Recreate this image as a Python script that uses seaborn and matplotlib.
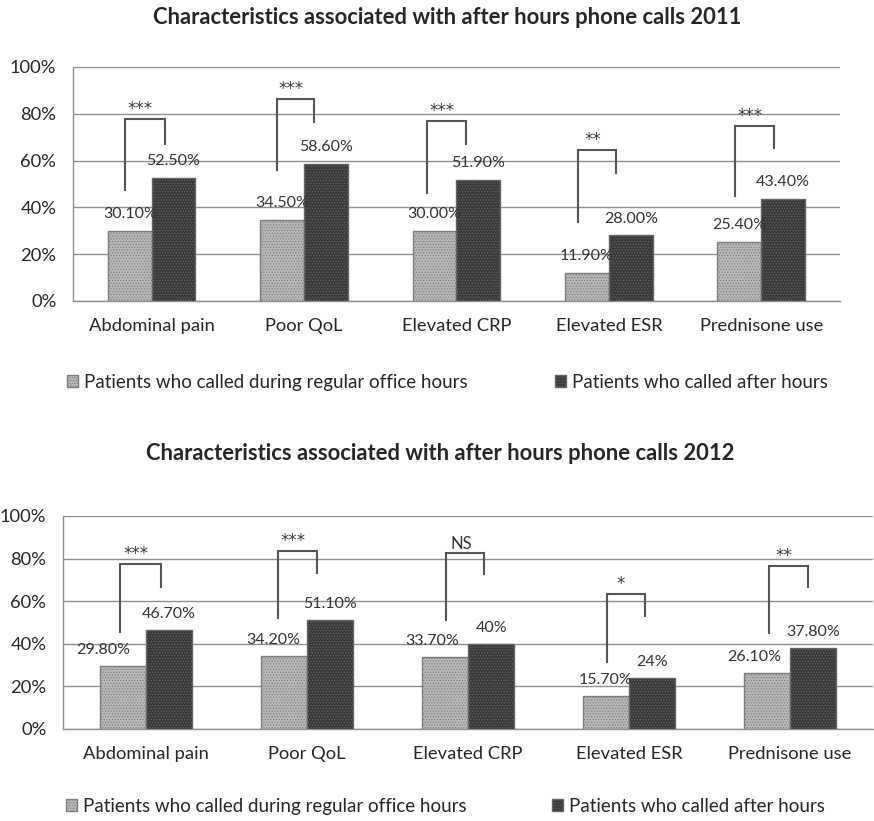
import matplotlib
matplotlib.use("Agg")
import matplotlib.pyplot as plt
import pandas as pd
import seaborn as sns

categories = ["Abdominal pain", "Poor QoL", "Elevated CRP", "Elevated ESR", "Prednisone use"]
groups = ["Patients who called during regular office hours", "Patients who called after hours"]

office_2011 = [30.1, 34.5, 30.0, 11.9, 25.4]
after_2011 = [52.5, 58.6, 51.9, 28.0, 43.4]
office_2012 = [29.8, 34.2, 33.7, 15.7, 26.1]
after_2012 = [46.7, 51.1, 40.0, 24.0, 37.8]

# number of decimals printed in each value label
office_2011_dec = [2, 2, 2, 2, 2]
after_2011_dec = [2, 2, 2, 2, 2]
office_2012_dec = [2, 2, 2, 2, 2]
after_2012_dec = [2, 2, 0, 0, 2]

sig_2011 = ["***", "***", "***", "**", "***"]
sig_2012 = ["***", "***", "NS", "*", "**"]

# significance brackets: heights in percent
br_left_2011 = [47.4, 56.0, 46.0, 33.8, 44.9]
br_top_2011 = [77.8, 86.3, 77.0, 64.5, 74.8]
br_right_2011 = [67.0, 76.5, 67.0, 54.7, 65.4]
br_left_2012 = [45.5, 52.0, 51.0, 31.5, 45.0]
br_top_2012 = [77.5, 83.6, 82.6, 63.4, 76.5]
br_right_2012 = [66.7, 73.2, 72.7, 53.0, 66.7]

# bracket horizontal placement relative to category centre
br_dx_left_2011 = [-0.176, -0.18, -0.19, -0.20, -0.17]
br_dx_right_2011 = [0.085, 0.066, 0.065, 0.05, 0.085]
br_dx_left_2012 = [-0.16, -0.18, -0.14, -0.14, -0.13]
br_dx_right_2012 = [0.093, 0.062, 0.10, 0.10, 0.11]

# horizontal nudges (points) for the office-hours value labels
office_label_dx_2011 = [0, 0, 0, 0, 0]
office_label_dx_2012 = [-14, -8, -9, 0, -9]

FONT = ["Lato", "DejaVu Sans"]
plt.rcParams["font.family"] = FONT
plt.rcParams["hatch.linewidth"] = 0.5

LIGHT = "#b7b7b7"
DARK = "#3a3a3a"
LIGHT_EDGE = "#7d7d7d"
DARK_EDGE = "#666666"
GRID = "#8f8f8f"
TEXT = "#262626"

fig = plt.figure(figsize=(8.74, 8.21), dpi=100)
ax1 = fig.add_axes([0.0835, 0.6334, 0.8775, 0.2850])
ax2 = fig.add_axes([0.0721, 0.1121, 0.9269, 0.2594])


def panel(ax, office, after, odec, adec, sig, bl, bt, br, dxl, dxr, odx, title, title_xy,
          lab_off, star_off):
    df = pd.DataFrame({
        "category": categories * 2,
        "group": [groups[0]] * len(categories) + [groups[1]] * len(categories),
        "value": list(office) + list(after),
    })
    sns.barplot(data=df, x="category", y="value", hue="group", order=categories,
                hue_order=groups, palette=[LIGHT, DARK], saturation=1, width=0.575,
                ax=ax, legend=True, err_kws={"linewidth": 0})
    leg = ax.get_legend()
    if leg is not None:
        leg.remove()
    for cont, edge in zip(ax.containers, [LIGHT_EDGE, DARK_EDGE]):
        for p in cont:
            p.set_hatch("......")
            p.set_edgecolor(edge)
            p.set_linewidth(1.0)
            p.set_zorder(3)

    ax.set_ylim(0, 100)
    ax.set_yticks(range(0, 101, 20))
    ax.set_yticklabels([f"{v}%" for v in range(0, 101, 20)])
    ax.set_xlabel("")
    ax.set_ylabel("")
    ax.set_facecolor("white")
    ax.grid(axis="y", color=GRID, linewidth=1.0, zorder=0)
    ax.set_axisbelow(True)
    for s in ["top", "right"]:
        ax.spines[s].set_visible(False)
    for s in ["left", "bottom"]:
        ax.spines[s].set_color(GRID)
        ax.spines[s].set_linewidth(1.0)
    ax.tick_params(axis="both", length=0, labelsize=13.2, labelcolor=TEXT)
    ax.tick_params(axis="y", pad=12)
    ax.tick_params(axis="x", pad=12)

    # value labels
    for cont, vals, decs, dxs in [(ax.containers[0], office, odec, odx),
                                  (ax.containers[1], after, adec, [0] * 5)]:
        for p, v, d, dx in zip(cont, vals, decs, dxs):
            ax.annotate(f"{v:.{d}f}%", (p.get_x() + p.get_width() / 2, v),
                        xytext=(dx, lab_off), textcoords="offset points",
                        ha="center", va="center", fontsize=11.5, color="#333333",
                        zorder=5)

    # significance brackets
    for i, (s, l, t, r, a, b) in enumerate(zip(sig, bl, bt, br, dxl, dxr)):
        ax.plot([i + a, i + a, i + b, i + b], [l, t, t, r], color="#555555",
                linewidth=1.5, solid_joinstyle="miter", zorder=4)
        if s == "NS":
            ax.text(i + (a + b) / 2 - 0.02, t + 1.8, s, ha="center", va="baseline",
                    fontsize=12, color="#333333", zorder=5)
        else:
            ax.text(i + (a + b) / 2 - 0.03, t + star_off, s, ha="center",
                    va="baseline", fontsize=12, family="DejaVu Sans",
                    color="#3a3a3a", zorder=5)

    fig.text(title_xy[0], title_xy[1], title, ha="center", va="center",
             fontsize=15.8, fontweight="bold", color=TEXT)


panel(ax1, office_2011, after_2011, office_2011_dec, after_2011_dec, sig_2011,
      br_left_2011, br_top_2011, br_right_2011, br_dx_left_2011, br_dx_right_2011,
      office_label_dx_2011, "Characteristics associated with after hours phone calls 2011",
      (447 / 874, 1 - 18 / 821), 12.2, 2.2)
panel(ax2, office_2012, after_2012, office_2012_dec, after_2012_dec, sig_2012,
      br_left_2012, br_top_2012, br_right_2012, br_dx_left_2012, br_dx_right_2012,
      office_label_dx_2012, "Characteristics associated with after hours phone calls 2012",
      (440 / 874, 1 - 453 / 821), 11.5, 2.4)


def legend_item(ax, idx, x_px, y_px):
    handle = ax.containers[idx][0]
    fig.legend([handle], [groups[idx]], loc="center left",
               bbox_to_anchor=(x_px / 874, 1 - y_px / 821), frameon=False,
               borderpad=0, borderaxespad=0, handlelength=0.6, handleheight=0.6,
               handletextpad=0.3, fontsize=13.5, labelcolor=TEXT)


legend_item(ax1, 0, 67, 382)
legend_item(ax1, 1, 555, 382)
legend_item(ax2, 0, 66, 806)
legend_item(ax2, 1, 552, 806)

fig.savefig("out.png", dpi=100, facecolor="white")
